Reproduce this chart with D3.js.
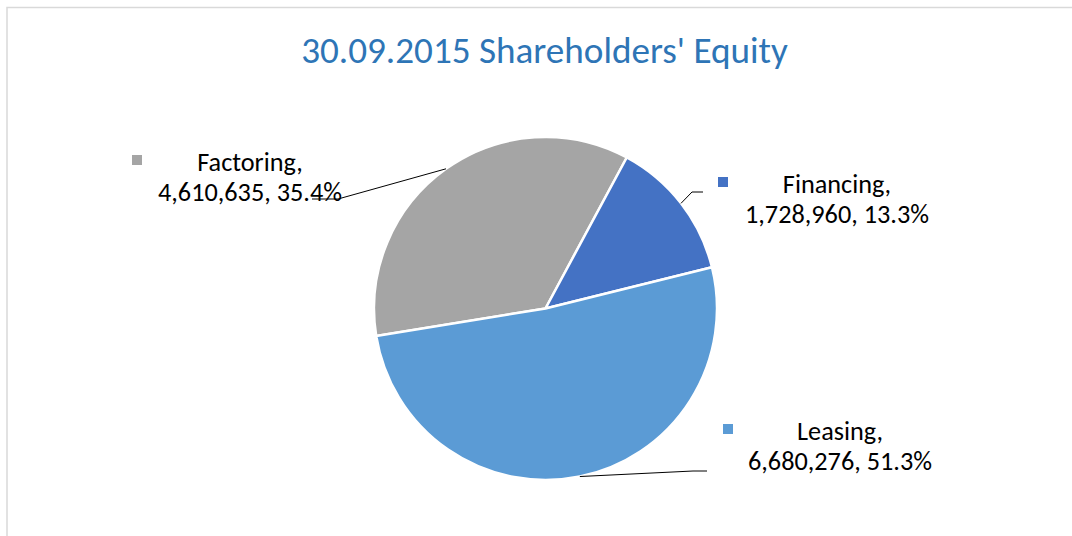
<!DOCTYPE html>
<html><head><meta charset="utf-8">
<script src="https://cdn.jsdelivr.net/npm/d3@7"></script>
<style>body{margin:0;background:#fff;} svg{display:block;}</style>
</head><body>
<svg id="chart" width="1072" height="536"></svg>
<script>
// ---- data ----
const title = "30.09.2015 Shareholders' Equity";
const categories = ["Factoring", "Financing", "Leasing"];
const values = [4610635, 1728960, 6680276];
const colors = ["#A5A5A5", "#4472C4", "#5B9BD5"];

// ---- layout (positions/styles only) ----
const W = 1072, H = 536;
const cx = 545.5, cy = 308.5, R = 171.5;
const firstSliceAngle = 260.8; // degrees, clockwise from 12 o'clock
const fontFamily = "Carlito, Calibri, Lato, sans-serif";
// label placement: center x, first baseline y, marker x/y, leader elbow and end
const labelLayout = [
  {x: 250, y: 171, mx: 132, my: 155, elbow: [338, 199], end: [312, 199]},
  {x: 837, y: 193, mx: 718, my: 177, elbow: [692, 192], end: [703, 192]},
  {x: 840, y: 440, mx: 723, my: 424, elbow: [693, 471], end: [707, 471]}
];
const lineGap = 30;

const svg = d3.select("#chart");
svg.append("rect").attr("width", W).attr("height", H).attr("fill", "#fff");
// chart frame
svg.append("rect").attr("x", 7).attr("y", 7.5).attr("width", 1200).attr("height", 700)
  .attr("fill", "none").attr("stroke", "#d9d9d9").attr("stroke-width", 1.5);

// title
const t = svg.append("text").attr("x", 544.5).attr("y", 63)
  .attr("text-anchor", "middle").attr("font-family", fontFamily)
  .attr("font-size", 32).attr("fill", "#2E75B6").text(title);
{
  const w = t.node().getComputedTextLength();
  t.attr("font-size", 32 * 487 / w);
}

const total = d3.sum(values);
const data = categories.map((c, i) => ({name: c, value: values[i], color: colors[i], layout: labelLayout[i]}));
const a0 = firstSliceAngle * Math.PI / 180;
const pie = d3.pie().sort(null).value(d => d.value).startAngle(a0).endAngle(a0 + 2 * Math.PI);
const arcs = pie(data);
const arc = d3.arc().innerRadius(0).outerRadius(R);

const g = svg.append("g").attr("transform", `translate(${cx},${cy})`);
g.selectAll("path.slice").data(arcs).join("path").attr("class", "slice")
  .attr("d", arc).attr("fill", d => d.data.color)
  .attr("stroke", "#fff").attr("stroke-width", 2.5).attr("stroke-linejoin", "round");

// leader lines
const fmtNum = d3.format(",");
const fmtPct = d3.format(".1%");
arcs.forEach(a => {
  const mid = (a.startAngle + a.endAngle) / 2;
  const sx = cx + R * Math.sin(mid), sy = cy - R * Math.cos(mid);
  const L = a.data.layout;
  svg.append("path")
    .attr("d", d3.line()([[sx, sy], L.elbow, L.end]))
    .attr("fill", "none").attr("stroke", "#000").attr("stroke-width", 1);
});

// labels
const labelG = svg.append("g");
let fs = 22;
const labels = arcs.map(a => {
  const L = a.data.layout;
  const txt = labelG.append("text").attr("font-family", fontFamily)
    .attr("font-size", fs).attr("fill", "#000").attr("text-anchor", "middle");
  txt.append("tspan").attr("x", L.x).attr("y", L.y).text(a.data.name + ",");
  const l2 = txt.append("tspan").attr("x", L.x).attr("y", L.y + lineGap)
    .text(fmtNum(a.data.value) + ", " + fmtPct(a.data.value / total));
  svg.append("rect").attr("x", L.mx).attr("y", L.my).attr("width", 10).attr("height", 10)
    .attr("fill", a.data.color);
  return {txt, l2};
});
{
  const w = labels[0].l2.node().getComputedTextLength();
  const nfs = fs * 184 / w;
  labels.forEach(l => l.txt.attr("font-size", nfs));
}
</script>
</body></html>
